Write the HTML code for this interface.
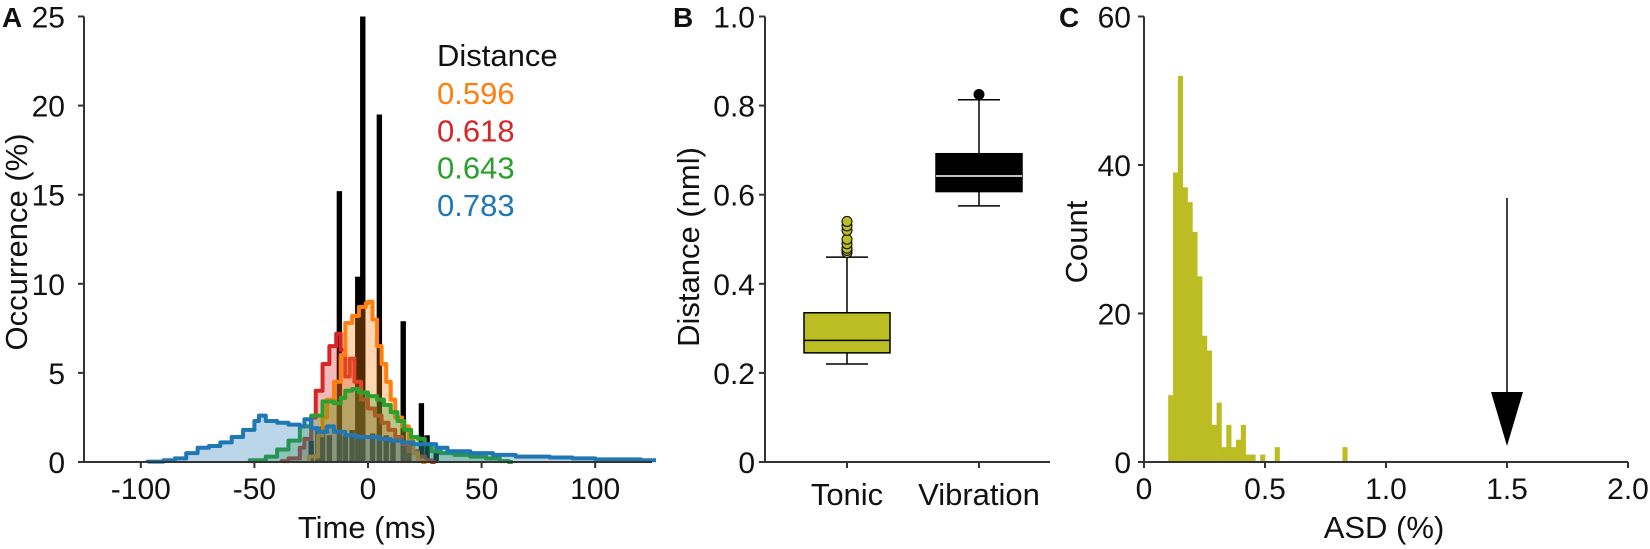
<!DOCTYPE html>
<html><head><meta charset="utf-8"><style>
html,body{margin:0;padding:0;background:#fff;}
svg{display:block;font-family:"Liberation Sans",Arial,sans-serif;}
</style></head><body>
<svg id="fig" width="1650" height="549" viewBox="0 0 1650 549" xmlns="http://www.w3.org/2000/svg"></svg>
<script>
// ---------- Panel A data ----------
const barTimes = [-25,-22,-20,-17,-12.6,-10,-7,-4.5,-2.3,2,5,8,11,15.5,18,23.5,26,30];
const barValues = [1.2,1.8,2.0,1.5,15.2,1.5,1.8,10.4,25,1.6,19.5,1.5,1.3,7.9,1.0,3.3,1.5,0.6];
const orangeT = [-26,-22,-20,-18,-15,-12,-10,-7,-4,-1,0,2,4,6,8,10,12,15,18,20,22,24];
const orangeV = [0.3,1.5,2.5,3.5,4.5,6,7.8,8.2,8.7,8.9,9,8,6.5,5.5,4.5,3.5,2.5,2,1.2,0.5,0.1,0];
const redT = [-38,-35,-30,-28,-25,-23,-20,-17,-14,-12,-10,-8,-6,-3,0,3,6,9,12,15,18,22,25,28];
const redV = [0.05,0.2,0.8,1.3,2.5,4,5.5,6.5,7.2,6.3,4.8,5.8,4.5,3.5,3,2.6,2.2,1.8,1.4,1,0.6,0.3,0.1,0];
const greenT = [-52,-45,-40,-35,-30,-25,-20,-15,-12,-10,-7,-4,0,4,7,10,13,16,19,22,25,28,32,38,45,52,58,62];
const greenV = [0.1,0.3,0.7,1.2,2,2.6,3.4,3.3,3.6,4,4.1,3.9,3.7,3.5,3.2,2.8,2.3,1.8,1.4,1.3,1,0.6,0.5,0.4,0.3,0.2,0.05,0];
const blueT = [-97,-90,-85,-80,-75,-70,-65,-60,-55,-50,-48,-45,-40,-35,-30,-28,-25,-22,-18,-15,-10,-5,0,5,10,15,20,25,30,35,40,45,50,55,60,65,70,80,90,100,110,120,125];
const blueV = [0.02,0.1,0.2,0.5,0.8,0.9,1.1,1.4,1.8,2.3,2.6,2.3,2.2,2.1,2.0,2.4,1.9,1.7,2.0,1.7,1.5,1.4,1.4,1.3,1.2,1.1,1.0,1.0,0.8,0.6,0.6,0.5,0.5,0.4,0.4,0.3,0.3,0.25,0.2,0.15,0.15,0.1,0.1];
const aXTicks = [-100,-50,0,50,100];
const aYTicks = [0,5,10,15,20,25];
const legendLabels = ["0.596","0.618","0.643","0.783"];
// ---------- Panel B data ----------
const boxCategories = ["Tonic","Vibration"];
const boxQ1 = [0.245,0.607];
const boxMedian = [0.273,0.642];
const boxQ3 = [0.335,0.692];
const boxWhiskLo = [0.22,0.575];
const boxWhiskHi = [0.46,0.813];
const tonicOutliers = [0.47,0.475,0.48,0.49,0.50,0.52,0.53,0.54];
const vibOutliers = [0.825];
const bYTicks = [0,0.2,0.4,0.6,0.8,1.0];
// ---------- Panel C data ----------
const asdBinStarts = [0.10,0.12,0.14,0.16,0.18,0.20,0.22,0.24,0.26,0.28,0.30,0.32,0.34,0.36,0.38,0.40,0.42,0.44,0.48,0.54,0.82];
const asdCounts = [9,39,52,37,35,31,25,17,15,5,8,2,5,2,3,5,1,1,1,2,2];
const cXTicks = [0,0.5,1.0,1.5,2.0];
const cYTicks = [0,20,40,60];
const arrowValue = 1.5;

const NS="http://www.w3.org/2000/svg";
const svg=document.getElementById('fig');
function mk(tag,attrs,parent){const e=document.createElementNS(NS,tag);for(const k in attrs)e.setAttribute(k,attrs[k]);(parent||svg).appendChild(e);return e;}
function txt(s,attrs,parent){const e=mk('text',attrs,parent);e.textContent=s;return e;}
const AX='#333';
const Y0=462, YT=16.5, FS=30, TFS=31, XLB=499;

// ===== Panel A =====
const ax=t=>84+(t+125)*(568/250);
const ay=v=>Y0-v*((Y0-YT)/25);
const gA=mk('g',{});


barTimes.forEach((t,i)=>{
  const r=mk('rect',{x:ax(t)-2.7,y:ay(barValues[i]),width:5.4,height:Y0-ay(barValues[i]),fill:'#000'},gA);
  
  
});
function stepPath(T,V){
  let d='M'+ax(T[0])+','+ay(0);
  for(let i=0;i<T.length;i++){
    const x0=ax(T[i]), x1= i<T.length-1?ax(T[i+1]):ax(T[i])+4;
    d+=' L'+x0+','+ay(V[i])+' L'+x1+','+ay(V[i]);
  }
  return d;
}
const series=[
  {T:redT,V:redV,c:'#d62728',f:'rgba(214,39,40,0.32)',n:'red-series-0618'},
  {T:orangeT,V:orangeV,c:'#ff7f0e',f:'rgba(255,127,14,0.32)',n:'orange-series-0596'},
  {T:greenT,V:greenV,c:'#2ca02c',f:'rgba(44,160,44,0.3)',n:'green-series-0643'},
  {T:blueT,V:blueV,c:'#1f77b4',f:'rgba(31,119,180,0.3)',n:'blue-series-0783'}];
series.forEach(s=>{
  const d=stepPath(s.T,s.V);
  const last=s.T.length-1;
  const endX=ax(s.T[last])+4;
  const f=mk('path',{d:d+' L'+endX+','+ay(0)+' Z',fill:s.f,stroke:'none'},gA);
  
  
  const l=mk('path',{d:d,fill:'none',stroke:s.c,'stroke-width':4,'stroke-linejoin':'round'},gA);
  
  
});
mk('line',{x1:84,y1:Y0,x2:652,y2:Y0,stroke:AX,'stroke-width':2},gA);
mk('line',{x1:84,y1:YT,x2:84,y2:Y0,stroke:AX,'stroke-width':2},gA);
aXTicks.forEach(t=>{
  mk('line',{x1:ax(t),y1:Y0,x2:ax(t),y2:Y0+6,stroke:AX,'stroke-width':2},gA);
  const e=txt(String(t),{x:ax(t),y:XLB,'font-size':FS,'text-anchor':'middle',fill:'#111'},gA);
  
  
});
aYTicks.forEach(v=>{
  mk('line',{x1:78,y1:ay(v),x2:84,y2:ay(v),stroke:AX,'stroke-width':2},gA);
  const e=txt(String(v),{x:65,y:ay(v)+11,'font-size':FS,'text-anchor':'end',fill:'#111'},gA);
  
  
});
let e;
e=txt('A',{x:2,y:27,'font-size':28,'font-weight':'bold',fill:'#111'});


e=txt('Time (ms)',{x:367,y:538,'font-size':TFS,'text-anchor':'middle',fill:'#111'});


e=txt('Occurrence (%)',{x:0,y:0,'font-size':TFS,'text-anchor':'middle',fill:'#111',transform:'translate(27,242) rotate(-90)'});


e=txt('Distance',{x:437,y:66,'font-size':TFS,fill:'#111'});


const legColors=['#ff7f0e','#d62728','#2ca02c','#1f77b4'];
legendLabels.forEach((s,i)=>{
  const t=txt(s,{x:437,y:104+i*37.3,'font-size':TFS,fill:legColors[i]});
  
  
});

// ===== Panel B =====
const bx0=765;
const by=v=>Y0-v*(Y0-YT);
const bCx=[847,979];
const gB=mk('g',{});


const boxFill=['#bcbd22','#000'];
const medCol=['#000','#fff'];
boxCategories.forEach((c,i)=>{
  const cx=bCx[i];
  mk('line',{x1:cx,y1:by(boxWhiskLo[i]),x2:cx,y2:by(boxWhiskHi[i]),stroke:'#000','stroke-width':1.5},gB);
  mk('line',{x1:cx-21,y1:by(boxWhiskLo[i]),x2:cx+21,y2:by(boxWhiskLo[i]),stroke:'#000','stroke-width':1.5},gB);
  mk('line',{x1:cx-21,y1:by(boxWhiskHi[i]),x2:cx+21,y2:by(boxWhiskHi[i]),stroke:'#000','stroke-width':1.5},gB);
  const r=mk('rect',{x:cx-43,y:by(boxQ3[i]),width:86,height:by(boxQ1[i])-by(boxQ3[i]),fill:boxFill[i],stroke:'#000','stroke-width':1.5},gB);
  
  
  mk('line',{x1:cx-43,y1:by(boxMedian[i]),x2:cx+43,y2:by(boxMedian[i]),stroke:medCol[i],'stroke-width':1.5},gB);
  mk('line',{x1:cx,y1:Y0,x2:cx,y2:Y0+6,stroke:AX,'stroke-width':2},gB);
  const t=txt(c,{x:cx,y:505,'font-size':TFS,'text-anchor':'middle',fill:'#111'},gB);
  
  
});
tonicOutliers.forEach(v=>{
  const o=mk('circle',{cx:bCx[0],cy:by(v),r:5,fill:'#bcbd22',stroke:'#000','stroke-width':1},gB);
  
  
});
vibOutliers.forEach(v=>{
  const o=mk('circle',{cx:bCx[1],cy:by(v),r:5.5,fill:'#000'},gB);
  
  
});
mk('line',{x1:bx0,y1:Y0,x2:1050,y2:Y0,stroke:AX,'stroke-width':2},gB);
mk('line',{x1:bx0,y1:YT,x2:bx0,y2:Y0,stroke:AX,'stroke-width':2},gB);
bYTicks.forEach(v=>{
  mk('line',{x1:bx0-6,y1:by(v),x2:bx0,y2:by(v),stroke:AX,'stroke-width':2},gB);
  const t=txt(v===0?'0':v.toFixed(1),{x:755,y:by(v)+11,'font-size':FS,'text-anchor':'end',fill:'#111'},gB);
  
  
});
e=txt('B',{x:673,y:27,'font-size':28,'font-weight':'bold',fill:'#111'});


e=txt('Distance (nml)',{x:0,y:0,'font-size':TFS,'text-anchor':'middle',fill:'#111',transform:'translate(699,247) rotate(-90)'});



// ===== Panel C =====
const cx0=1144;
const cxs=v=>cx0+v*(484/2);
const cys=v=>Y0-v*((Y0-YT)/60);
const gC=mk('g',{});


asdBinStarts.forEach((b,i)=>{
  const r=mk('rect',{x:cxs(b),y:cys(asdCounts[i]),width:cxs(0.02)-cx0+0.3,height:Y0-cys(asdCounts[i]),fill:'#bcbd22'},gC);
  
  
});
mk('line',{x1:cx0,y1:Y0,x2:cxs(2),y2:Y0,stroke:AX,'stroke-width':2},gC);
mk('line',{x1:cx0,y1:YT,x2:cx0,y2:Y0,stroke:AX,'stroke-width':2},gC);
cXTicks.forEach(v=>{
  mk('line',{x1:cxs(v),y1:Y0,x2:cxs(v),y2:Y0+6,stroke:AX,'stroke-width':2},gC);
  const t=txt(v===0?'0':v.toFixed(1),{x:cxs(v),y:XLB,'font-size':FS,'text-anchor':'middle',fill:'#111'},gC);
  
  
});
cYTicks.forEach(v=>{
  mk('line',{x1:cx0-6,y1:cys(v),x2:cx0,y2:cys(v),stroke:AX,'stroke-width':2},gC);
  const t=txt(String(v),{x:1131,y:cys(v)+11,'font-size':FS,'text-anchor':'end',fill:'#111'},gC);
  
  
});
const axX=cxs(arrowValue);
e=mk('line',{x1:axX,y1:198,x2:axX,y2:400,stroke:'#000','stroke-width':1.5},gC);


e=mk('polygon',{points:(axX-16)+',392 '+(axX+16)+',392 '+axX+',446',fill:'#000'},gC);


e=txt('C',{x:1059,y:27,'font-size':28,'font-weight':'bold',fill:'#111'});


e=txt('ASD (%)',{x:1384,y:538,'font-size':TFS,'text-anchor':'middle',fill:'#111'});


e=txt('Count',{x:0,y:0,'font-size':TFS,'text-anchor':'middle',fill:'#111',transform:'translate(1087,242) rotate(-90)'});


</script>
</body></html>
